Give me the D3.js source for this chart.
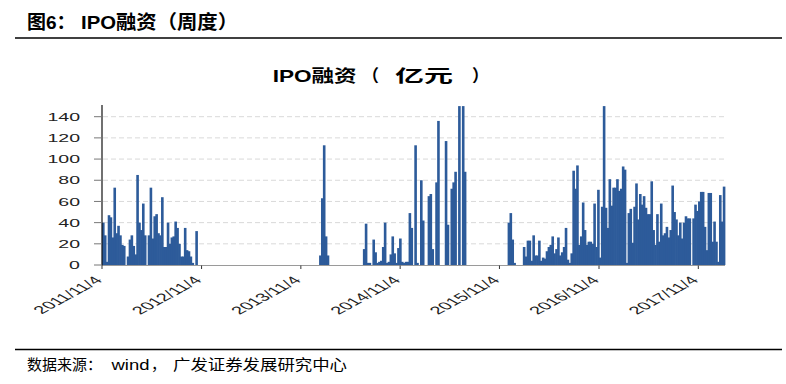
<!DOCTYPE html>
<html>
<head>
<meta charset="utf-8">
<script src="https://cdn.jsdelivr.net/npm/d3@7"></script>
<style>
body{margin:0;background:#fff}
svg{display:block}
text{font-family:"Liberation Sans","Noto Sans CJK SC",sans-serif;fill:#000}
</style>
</head>
<body>
<div id="chart"></div>
<script>
"use strict"

// weekly IPO funds raised (亿元); each run of weeks starts on its date
var runStarts = ["2011-11-04", "2014-01-10", "2014-06-20", "2015-12-04"]

var weeks2011 = [40,28,3,47,45,26,73,30,37,28,19,18,0,8,24,28,18,10,85,40,33,58,28,0,28,73,25,46,48,30,
    28,64,17,17,40,20,26,27,41,35,20,8,8,35,14,13,8,2,0,32]

var weeks2014a = [9,63,113,27,9]

var weeks2014b = [15,39,2,2,0,24,12,2,3,4,17,40,2,3,10,27,11,2,16,25,3,2,3,3,49,35,0,113,2,0,
    80,42,0,0,65,67,15,0,78,136,0,0,0,117,38,0,72,78,88,0,150,0,150,88]

var weeks2015 = [40,49,24,2,0,0,0,0,17,8,23,23,4,28,9,9,23,4,7,6,13,17,19,27,11,15,26,9,12,17,35,5,2,11,
    89,72,94,19,27,59,33,19,22,22,20,58,17,71,7,55,150,
    54,35,81,56,73,73,81,70,72,93,90,2,
    49,53,21,55,77,43,67,57,65,54,48,48,79,33,19,48,22,58,28,30,36,26,33,75,50,43,28,40,25,40,46,44,44,0,
    44,57,51,60,69,69,36,14,68,68,22,41,22,3,66,41,74]

var yTicks = [0,20,40,60,80,100,120,140]
var xTickDates = ["2011-11-04","2012-11-04","2013-11-04","2014-11-04","2015-11-04","2016-11-04","2017-11-04"]
var xTickLabels = ["2011/11/4","2012/11/4","2013/11/4","2014/11/4","2015/11/4","2016/11/4","2017/11/4"]

var parse = d3.utcParse("%Y-%m-%d")
var width = 786, height = 384
var barColor = "#2d5b9a"

var bars = []
;[weeks2011, weeks2014a, weeks2014b, weeks2015].forEach(function(vals, r){
    var s = parse(runStarts[r])
    vals.forEach(function(v, i){
        bars.push({date: d3.utcDay.offset(s, 7*i), value: v})
    })
})

var svg = d3.select("#chart").append("svg")
    .attr("width", width).attr("height", height)

// header and footer
svg.append("line").attr("x1", 15).attr("x2", 782).attr("y1", 38).attr("y2", 38)
    .style("stroke", "#000").style("stroke-width", 1.3)
svg.append("line").attr("x1", 15).attr("x2", 782).attr("y1", 349.5).attr("y2", 349.5)
    .style("stroke", "#000").style("stroke-width", 1.3)

svg.append("text").attr("x", 27).attr("y", 29)
    .style("font-size", "19px").style("font-weight", "bold").text("图6：")
svg.append("text").attr("x", 81).attr("y", 29)
    .attr("textLength", 157).attr("lengthAdjust", "spacingAndGlyphs")
    .style("font-size", "19px").style("font-weight", "bold").text("IPO融资（周度）")

svg.append("text").attr("x", 27).attr("y", 370).style("font-size", "15px").text("数据来源：")
svg.append("text").attr("x", 111.5).attr("y", 370).attr("textLength", 38).attr("lengthAdjust", "spacingAndGlyphs")
    .style("font-size", "15px").text("wind")
svg.append("text").attr("x", 151).attr("y", 370).style("font-size", "15px").text("，")
svg.append("text").attr("x", 173).attr("y", 370).attr("textLength", 174).attr("lengthAdjust", "spacingAndGlyphs")
    .style("font-size", "15px").text("广发证券发展研究中心")

// chart title
var title = svg.append("g").style("font-size", "17px").style("font-weight", "bold")
title.append("text").attr("x", 272.7).attr("y", 82).attr("textLength", 84)
    .attr("lengthAdjust", "spacingAndGlyphs").text("IPO融资")
title.append("text").attr("x", 362).attr("y", 82).text("（")
title.append("text").attr("x", 395).attr("y", 82).attr("textLength", 58)
    .attr("lengthAdjust", "spacingAndGlyphs").text("亿元")
title.append("text").attr("x", 472).attr("y", 82).text("）")

var x = d3.scaleUtc()
    .domain([parse(xTickDates[0]), parse(xTickDates[6])])
    .range([102, 698.3])
var y = d3.scaleLinear().domain([0, 150]).range([265, 106.1])
var plotRight = 725

// gridlines
svg.append("g").selectAll("line").data(yTicks.filter(function(t){return t > 0}))
    .enter().append("line")
    .attr("x1", 103).attr("x2", plotRight)
    .attr("y1", function(d){return y(d)}).attr("y2", function(d){return y(d)})
    .style("stroke", "#d9d9d9").style("stroke-dasharray", "5,3")

// bars
svg.append("g").selectAll("rect").data(bars.filter(function(d){return d.value > 0}))
    .enter().append("rect")
    .attr("x", function(d){return x(d.date)})
    .attr("width", function(d){return x(d3.utcDay.offset(d.date, 7)) - x(d.date) + 0.7})
    .attr("y", function(d){return y(d.value)})
    .attr("height", function(d){return y(0) - y(d.value)})
    .style("fill", barColor)

// x axis
svg.append("line").attr("x1", 102).attr("x2", plotRight).attr("y1", 265.5).attr("y2", 265.5)
    .style("stroke", "#9a9a9a").style("stroke-width", 1)
var xt = svg.append("g").selectAll("g").data(xTickDates).enter().append("g")
xt.append("line")
    .attr("x1", function(d){return x(parse(d))}).attr("x2", function(d){return x(parse(d))})
    .attr("y1", 265.5).attr("y2", 269)
    .style("stroke", "#333")
xt.append("text")
    .attr("transform", function(d){return "translate(" + (x(parse(d)) + 1.5) + ",281) scale(1.85,1) rotate(-45)"})
    .attr("text-anchor", "end")
    .style("font-size", "11px").style("fill", "#222")
    .text(function(d, i){return xTickLabels[i]})

// y axis
svg.append("line").attr("x1", 102).attr("x2", 102).attr("y1", 105).attr("y2", 265.5)
    .style("stroke", "#111").style("stroke-width", 1.2)
var yt = svg.append("g").selectAll("g").data(yTicks).enter().append("g")
yt.append("line")
    .attr("x1", 94).attr("x2", 102)
    .attr("y1", function(d){return y(d)}).attr("y2", function(d){return y(d)})
    .style("stroke", "#777")
yt.append("text")
    .attr("transform", function(d){return "translate(80," + y(d) + ") scale(1.7,1)"})
    .attr("text-anchor", "end").attr("dy", "0.36em")
    .style("font-size", "11.5px").style("fill", "#222")
    .text(function(d){return d})
</script>
</body>
</html>
